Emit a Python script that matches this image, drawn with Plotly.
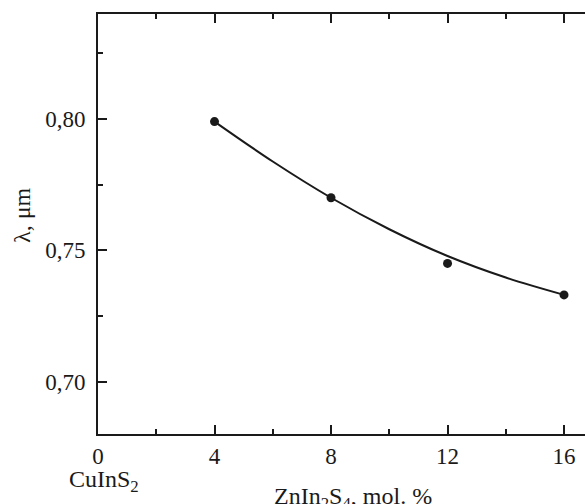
import plotly.graph_objects as go

# Data
x_points = [4, 8, 12, 16]
y_points = [0.799, 0.770, 0.745, 0.733]
# Fitted curve
x_curve = [4, 6, 8, 10, 12, 14, 16]
y_curve = [0.799, 0.7838, 0.770, 0.7580, 0.7478, 0.7396, 0.733]

x_tickvals = [0, 4, 8, 12, 16]
x_ticktext = ["0", "4", "8", "12", "16"]
y_tickvals = [0.70, 0.75, 0.80]
y_ticktext = ["0,70", "0,75", "0,80"]

FONT = "Liberation Serif"
INK = "#1a1a1a"
FS_TICK = 23
FS_TEXT = 24

W, H = 585, 504
ML, MT, MB = 98, 14, 70
MR = 0

fig = go.Figure()
fig.add_trace(go.Scatter(x=x_curve, y=y_curve, mode="lines",
                         line=dict(color=INK, width=2, shape="spline"),
                         hoverinfo="skip", showlegend=False))
fig.add_trace(go.Scatter(x=x_points, y=y_points, mode="markers",
                         marker=dict(color=INK, size=9), showlegend=False))

fig.update_layout(
    width=W, height=H,
    margin=dict(l=ML, r=MR, t=MT, b=MB),
    paper_bgcolor="white", plot_bgcolor="white",
    font=dict(family=FONT, size=FS_TICK, color=INK),
    showlegend=False,
)
fig.update_xaxes(
    range=[0, 16.72], showgrid=False, zeroline=False,
    showline=True, linecolor=INK, linewidth=2, mirror="ticks",
    ticks="inside", ticklen=9, tickwidth=2, tickcolor=INK,
    tickvals=x_tickvals, ticktext=x_ticktext,
    tickfont=dict(family=FONT, size=FS_TICK, color=INK),
    minor=dict(ticks="inside", ticklen=5, tickwidth=2, tickcolor=INK, dtick=2, tick0=0),
)
fig.update_yaxes(
    range=[0.68, 0.84], showgrid=False, zeroline=False,
    showline=True, linecolor=INK, linewidth=2, mirror=False,
    ticks="inside", ticklen=9, tickwidth=2, tickcolor=INK,
    tickvals=y_tickvals, ticktext=y_ticktext,
    tickfont=dict(family=FONT, size=FS_TICK, color=INK),
    ticklabelstandoff=6,
    minor=dict(ticks="inside", ticklen=5, tickwidth=2, tickcolor=INK, dtick=0.05, tick0=0.675),
)

ph = H - MT - MB
def py(pix):
    return (H - MB - pix) / ph

fig.add_annotation(text="λ, μm", textangle=-90, xref="paper", yref="paper",
                   x=(22 - ML) / (W - ML - MR), y=py(215), xanchor="center", yanchor="middle",
                   showarrow=False, font=dict(family=FONT, size=FS_TEXT, color=INK))
fig.add_annotation(text="CuInS<sub>2</sub>", xref="paper", yref="paper",
                   x=(67 - ML) / (W - ML - MR), y=py(481), xanchor="left", yanchor="middle",
                   showarrow=False, font=dict(family=FONT, size=FS_TEXT, color=INK))
fig.add_annotation(text="ZnIn<sub>2</sub>S<sub>4</sub>, mol. %", xref="paper", yref="paper",
                   x=(353 - ML) / (W - ML - MR), y=py(498), xanchor="center", yanchor="middle",
                   showarrow=False, font=dict(family=FONT, size=FS_TEXT, color=INK))

fig.write_html("out.html")
